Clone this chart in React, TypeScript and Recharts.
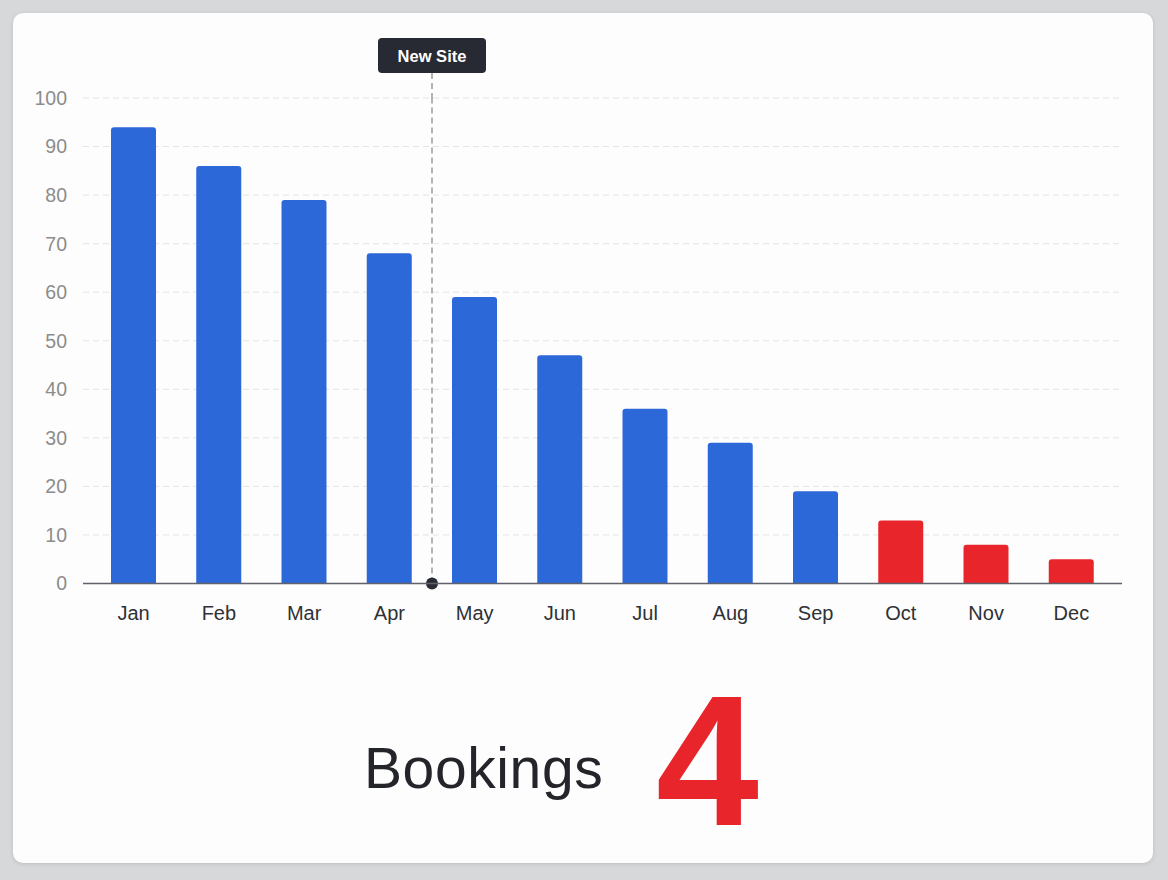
import React from 'react';
import { BarChart, Bar, XAxis, YAxis, CartesianGrid, ReferenceLine, Cell } from 'recharts';

const months = ['Jan', 'Feb', 'Mar', 'Apr', 'May', 'Jun', 'Jul', 'Aug', 'Sep', 'Oct', 'Nov', 'Dec'];
const bookings = [94, 86, 79, 68, 59, 47, 36, 29, 19, 13, 8, 5];
const yTicks = [0, 10, 20, 30, 40, 50, 60, 70, 80, 90, 100];
const alertThreshold = 15;
const markerLabel = 'New Site';
const markerMonth = 'May'; // marker sits at the start of this month
const summaryLabel = 'Bookings';
const summaryValue = '4';

const data = months.map((m, i) => ({ month: m, value: bookings[i] }));

const FONT = '"Liberation Sans", Arial, Helvetica, sans-serif';
const BLUE = '#2d68d9';
const RED = '#e8252b';

const renderMarker = (props: any) => {
  const vb = props.viewBox || {};
  const cx = vb.x;
  const top = vb.y;
  const bottom = vb.y + (vb.height || 0);
  return (
    <g>
      <line x1={cx} y1={top - 25} x2={cx} y2={top} stroke="#9b9b9b" strokeWidth={1.5} strokeDasharray="6 4" />
      <rect x={cx - 54} y={top - 60} width={108} height={35} rx={4} fill="#272a33" />
      <text
        x={cx}
        y={top - 42.5}
        textAnchor="middle"
        dominantBaseline="central"
        fill="#ffffff"
        fontSize={16.5}
        fontWeight={700}
        fontFamily={FONT}
      >
        {markerLabel}
      </text>
      <circle cx={cx} cy={bottom} r={6} fill="#2a2c35" />
    </g>
  );
};

export default function App() {
  return (
    <div
      style={{
        position: 'fixed',
        left: 0,
        top: 0,
        width: 1168,
        height: 880,
        background: '#d7d8da',
        fontFamily: FONT,
      }}
    >
      <div
        style={{
          position: 'absolute',
          left: 13,
          top: 13,
          width: 1140,
          height: 850,
          borderRadius: 10,
          background: '#fdfdfd',
          boxShadow: '0 1px 4px rgba(0,0,0,0.12)',
        }}
      />
      <div style={{ position: 'absolute', left: 0, top: 0 }}>
        <BarChart
          width={1168}
          height={664}
          data={data}
          margin={{ top: 98, right: 46, left: 23, bottom: 40.5 }}
        >
          <CartesianGrid vertical={false} stroke="#e4e4e4" strokeDasharray="6 4" />
          <XAxis
            dataKey="month"
            height={40}
            padding={{ left: 8, right: 8 }}
            axisLine={{ stroke: '#5f626a', strokeWidth: 1.5 }}
            tickLine={false}
            tickSize={0}
            tickMargin={22}
            tick={{ fill: '#2f3136', fontSize: 20, fontFamily: FONT }}
            interval={0}
          />
          <YAxis
            domain={[0, 100]}
            ticks={yTicks}
            width={60}
            axisLine={false}
            tickLine={false}
            tickSize={0}
            tickMargin={16}
            tick={{ fill: '#8c8c8c', fontSize: 19.5, fontFamily: FONT }}
          />
          <Bar dataKey="value" barSize={45} radius={[3, 3, 0, 0]} isAnimationActive={false}>
            {data.map((d, i) => (
              <Cell key={i} fill={d.value < alertThreshold ? RED : BLUE} />
            ))}
          </Bar>
          <ReferenceLine
            x={markerMonth}
            position="start"
            stroke="#9b9b9b"
            strokeWidth={1.5}
            strokeDasharray="6 4"
            label={renderMarker}
          />
        </BarChart>
      </div>
      <svg
        width={1168}
        height={880}
        style={{ position: 'absolute', left: 0, top: 0, pointerEvents: 'none' }}
      >
        <text x={364} y={788} fontSize={57} letterSpacing={0.6} fill="#23252b" fontFamily={FONT}>
          {summaryLabel}
        </text>
        <text x={656} y={825} fontSize={185} fontWeight={700} fill={RED} fontFamily={FONT}>
          {summaryValue}
        </text>
      </svg>
    </div>
  );
}
